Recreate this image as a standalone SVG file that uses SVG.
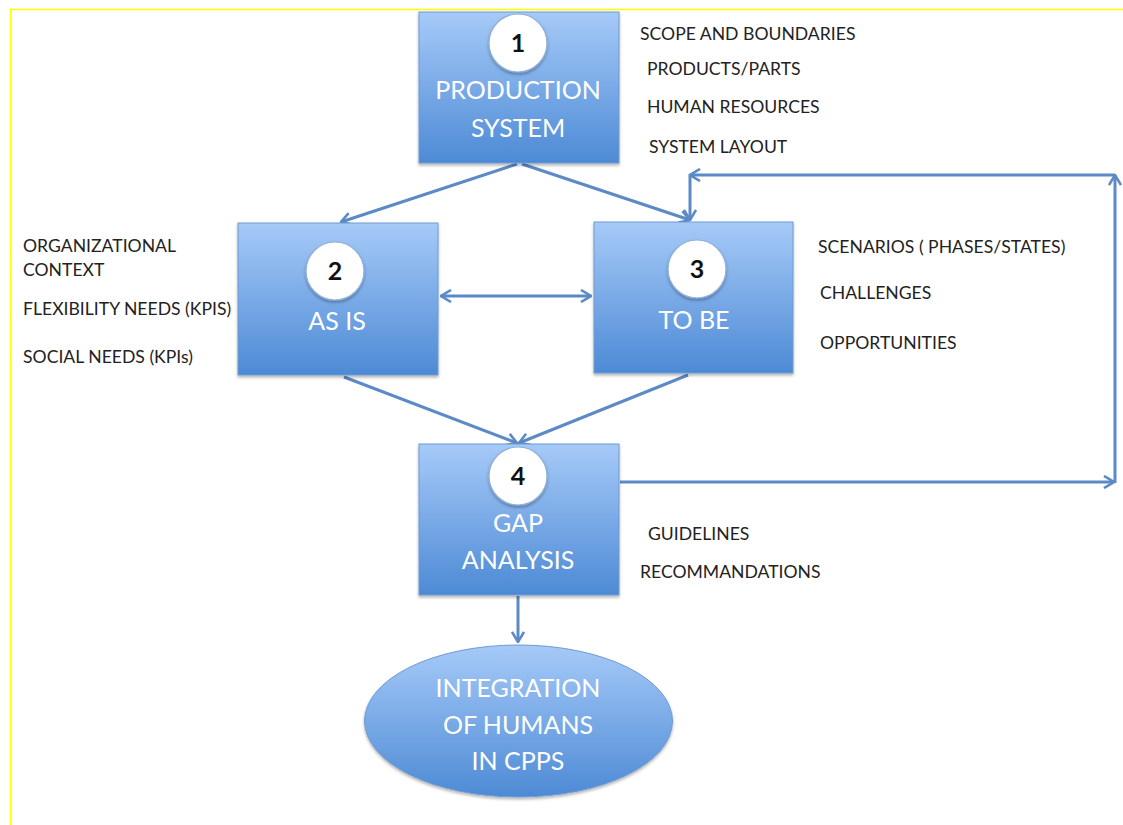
<svg xmlns="http://www.w3.org/2000/svg" width="1123" height="825" viewBox="0 0 1123 825">
  <style>
    .box { fill: url(#boxFill); stroke: #6F9AD2; stroke-width: 1; filter: url(#shadow); }
    .badge { fill: #FFFFFF; stroke: #8FB0D8; stroke-width: 1.2; filter: url(#shadow); }
    .num { font-family: Lato, "Liberation Sans", sans-serif; font-weight: bold; font-size: 25px; fill: #111111; text-anchor: middle; }
    .title { font-family: Lato, "Open Sans", sans-serif; font-size: 25px; fill: #FFFFFF; text-anchor: middle; }
    .note { font-family: Lato, "Open Sans", sans-serif; font-size: 17.6px; fill: #222222; }
    .wire { fill: none; stroke: #5B8AC6; stroke-width: 3; }
  </style>
  <defs>
    <linearGradient id="boxFill" x1="0" y1="0" x2="0" y2="1">
      <stop offset="0" stop-color="#A6CAF8"/>
      <stop offset="1" stop-color="#4D8AD5"/>
    </linearGradient>
    <filter id="shadow" x="-10%" y="-10%" width="120%" height="125%">
      <feDropShadow dx="0" dy="2" stdDeviation="1.5" flood-color="#000000" flood-opacity="0.3"/>
    </filter>
    <marker id="head" viewBox="0 0 12 14" refX="11" refY="7" markerWidth="12" markerHeight="14" markerUnits="userSpaceOnUse" orient="auto-start-reverse">
      <path d="M1,1 L11,7 L1,13" fill="none" stroke="#5B8AC6" stroke-width="2.6" stroke-linejoin="miter"/>
    </marker>
  </defs>

  <rect x="0" y="0" width="1123" height="825" fill="#FFFFFF"/>
  <!-- page frame -->
  <path d="M10.5,825 L10.5,9.5 L1123,9.5" fill="none" stroke="#FFFF00" stroke-width="1.5"/>

  <!-- connectors -->
  <g id="connectors">
    <line class="wire" x1="517" y1="164" x2="341" y2="222" marker-end="url(#head)"/>
    <line class="wire" x1="522" y1="164" x2="690" y2="220" marker-end="url(#head)"/>
    <line class="wire" x1="441" y1="296" x2="591" y2="296" marker-start="url(#head)" marker-end="url(#head)"/>
    <line class="wire" x1="344" y1="377" x2="517" y2="443" marker-end="url(#head)"/>
    <line class="wire" x1="688" y1="375" x2="519" y2="443" marker-end="url(#head)"/>
    <line class="wire" x1="620" y1="482" x2="1114" y2="482" marker-end="url(#head)"/>
    <line class="wire" x1="1115" y1="483" x2="1115" y2="175" marker-end="url(#head)"/>
    <line class="wire" x1="1115" y1="175" x2="690" y2="175" marker-end="url(#head)"/>
    <line class="wire" x1="690" y1="174" x2="690" y2="220" marker-end="url(#head)"/>
    <line class="wire" x1="518" y1="596" x2="518" y2="642" marker-end="url(#head)"/>
  </g>

  <!-- 1: production system -->
  <g id="node-production-system">
    <rect class="box" x="419" y="12" width="200" height="151"/>
    <circle class="badge" cx="518" cy="43" r="29"/>
    <text class="num" x="518" y="52">1</text>
    <text class="title" x="518" y="99">PRODUCTION</text>
    <text class="title" x="518" y="137">SYSTEM</text>
  </g>

  <!-- 2: as is -->
  <g id="node-as-is">
    <rect class="box" x="238" y="223" width="200" height="152"/>
    <circle class="badge" cx="335" cy="271" r="29"/>
    <text class="num" x="335" y="280">2</text>
    <text class="title" x="337" y="330">AS IS</text>
  </g>

  <!-- 3: to be -->
  <g id="node-to-be">
    <rect class="box" x="594" y="222" width="199" height="151"/>
    <circle class="badge" cx="697" cy="269" r="29"/>
    <text class="num" x="697" y="278">3</text>
    <text class="title" x="694" y="329">TO BE</text>
  </g>

  <!-- 4: gap analysis -->
  <g id="node-gap-analysis">
    <rect class="box" x="419" y="444" width="200" height="151"/>
    <circle class="badge" cx="518" cy="476" r="29"/>
    <text class="num" x="518" y="485">4</text>
    <text class="title" x="518" y="532">GAP</text>
    <text class="title" x="518" y="569">ANALYSIS</text>
  </g>

  <!-- outcome -->
  <g id="node-integration">
    <ellipse class="box" cx="518.5" cy="721" rx="154" ry="76"/>
    <text class="title" x="518" y="697">INTEGRATION</text>
    <text class="title" x="518" y="734">OF HUMANS</text>
    <text class="title" x="518" y="770">IN CPPS</text>
  </g>

  <!-- side notes -->
  <g id="notes-production-system">
    <text class="note" x="640" y="40">SCOPE AND BOUNDARIES</text>
    <text class="note" x="647" y="75">PRODUCTS/PARTS</text>
    <text class="note" x="647" y="113">HUMAN RESOURCES</text>
    <text class="note" x="649" y="153">SYSTEM LAYOUT</text>
  </g>
  <g id="notes-as-is">
    <text class="note" x="23" y="252">ORGANIZATIONAL</text>
    <text class="note" x="23" y="276">CONTEXT</text>
    <text class="note" x="23" y="315">FLEXIBILITY NEEDS (KPIS)</text>
    <text class="note" x="23" y="363">SOCIAL NEEDS (KPIs)</text>
  </g>
  <g id="notes-to-be">
    <text class="note" x="818" y="253">SCENARIOS ( PHASES/STATES)</text>
    <text class="note" x="820" y="299">CHALLENGES</text>
    <text class="note" x="820" y="349">OPPORTUNITIES</text>
  </g>
  <g id="notes-gap-analysis">
    <text class="note" x="648" y="540">GUIDELINES</text>
    <text class="note" x="640" y="578">RECOMMANDATIONS</text>
  </g>
</svg>
